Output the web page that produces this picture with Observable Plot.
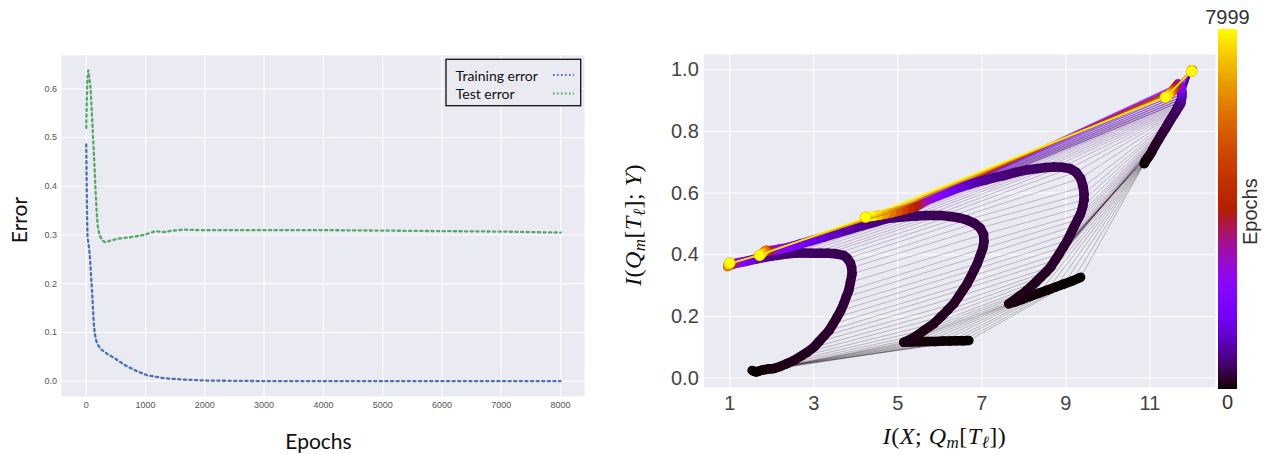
<!DOCTYPE html>
<html><head><meta charset="utf-8">
<script src="https://cdn.jsdelivr.net/npm/d3@7"></script>
<script src="https://cdn.jsdelivr.net/npm/@observablehq/plot@0.6"></script>
<style>
html,body{margin:0;padding:0;background:#fff;}
#root{position:relative;width:1266px;height:454px;overflow:hidden;background:#fff;}
#root svg{position:absolute;}
</style></head><body><div id="root"></div>
<script>
// ---------------- Left panel data ----------------
const trainEpochs = [0, 8, 15, 22, 35, 50, 65, 80, 95, 105, 118, 130, 145, 165, 185, 241, 354, 494, 663, 860, 1029, 1309, 1646, 2040, 3000, 4000, 5000, 6000, 7000, 8000];
const trainErr    = [0.486, 0.40, 0.33, 0.295, 0.285, 0.272, 0.25, 0.22, 0.19, 0.17, 0.138, 0.115, 0.097, 0.085, 0.077, 0.066, 0.056, 0.046, 0.032, 0.020, 0.012, 0.006, 0.003, 0.001, 0.0, 0.0, 0.0, 0.0, 0.0, 0.0];
const testEpochs  = [0, 10, 20, 34, 50, 72, 95, 118, 140, 157, 175, 196, 220, 241, 280, 325, 420, 523, 747, 972, 1100, 1169, 1309, 1450, 1646, 1928, 3000, 4000, 5000, 6000, 7000, 8000];
const testErr     = [0.52, 0.58, 0.62, 0.638, 0.625, 0.603, 0.55, 0.494, 0.44, 0.391, 0.35, 0.316, 0.302, 0.2955, 0.288, 0.285, 0.289, 0.292, 0.2955, 0.300, 0.305, 0.308, 0.306, 0.309, 0.311, 0.310, 0.310, 0.310, 0.309, 0.308, 0.307, 0.305];
const leftXTicks = [0, 1000, 2000, 3000, 4000, 5000, 6000, 7000, 8000];
const leftYTicks = [0, 0.1, 0.2, 0.3, 0.4, 0.5, 0.6];
const seriesNames = ["Training error", "Test error"];
const seriesColors = ["#4c72b0", "#55a868"];

// ---------------- Right panel data (information plane) ----------------
const epochs = [0, 3, 6, 10, 15, 20, 30, 40, 55, 70,
  85, 100, 115, 130, 145, 160, 175, 190, 205, 220, 235, 250, 265, 280, 295, 310, 325, 340, 355, 370, 385, 400, 420, 440, 460, 480, 500, 525, 550, 580,
  620, 700, 800, 950, 1100, 1300, 1550, 1800, 2100, 2500,
  2900, 3400, 3900, 4400, 5000, 5600, 6200, 6800, 7400, 7999];
const L1x = [1.53, 1.58, 1.63, 1.68, 1.74, 1.80, 1.87, 1.93, 1.99, 2.05,
  2.20, 2.36, 2.52, 2.68, 2.84, 3.00, 3.12, 3.24, 3.36, 3.46, 3.55, 3.64, 3.71, 3.77, 3.83, 3.87, 3.91, 3.90, 3.87, 3.80, 3.71, 3.52, 3.34, 3.16, 2.95, 2.74, 2.52, 2.38, 2.25, 2.13,
  2.00, 1.88, 1.76, 1.65, 1.55, 1.45, 1.36, 1.28, 1.20, 1.13,
  1.08, 1.03, 0.99, 0.96, 0.95, 0.95, 0.96, 0.97, 0.99, 1.00];
const L1y = [0.025, 0.022, 0.020, 0.022, 0.025, 0.027, 0.028, 0.030, 0.030, 0.031,
  0.038, 0.047, 0.057, 0.070, 0.084, 0.100, 0.118, 0.136, 0.154, 0.176, 0.197, 0.219, 0.241, 0.263, 0.284, 0.311, 0.338, 0.358, 0.373, 0.388, 0.398, 0.403, 0.405, 0.405, 0.405, 0.406, 0.405, 0.403, 0.401, 0.398,
  0.396, 0.393, 0.390, 0.387, 0.384, 0.381, 0.378, 0.376, 0.374, 0.372,
  0.370, 0.368, 0.366, 0.364, 0.362, 0.363, 0.366, 0.369, 0.371, 0.373];
const L2x = [6.69, 6.55, 6.40, 6.25, 6.08, 5.90, 5.72, 5.52, 5.32, 5.14,
  5.30, 5.48, 5.65, 5.85, 6.02, 6.18, 6.33, 6.45, 6.56, 6.65, 6.74, 6.82, 6.89, 6.96, 7.02, 7.05, 7.04, 6.96, 6.82, 6.64, 6.45, 6.25, 6.05, 5.85, 5.65, 5.45, 5.25, 5.05, 4.90, 4.75,
  4.45, 4.15, 3.85, 3.55, 3.25, 2.95, 2.65, 2.40, 2.17, 2.00,
  1.95, 1.92, 1.89, 1.87, 1.85, 1.83, 1.80, 1.77, 1.74, 1.71];
const L2y = [0.122, 0.121, 0.121, 0.120, 0.120, 0.119, 0.119, 0.118, 0.117, 0.116,
  0.126, 0.140, 0.157, 0.176, 0.198, 0.220, 0.241, 0.265, 0.288, 0.306, 0.330, 0.352, 0.371, 0.397, 0.420, 0.442, 0.466, 0.487, 0.502, 0.513, 0.520, 0.524, 0.527, 0.527, 0.527, 0.526, 0.524, 0.522, 0.520, 0.518,
  0.506, 0.494, 0.482, 0.470, 0.458, 0.446, 0.434, 0.424, 0.418, 0.414,
  0.413, 0.413, 0.414, 0.414, 0.414, 0.412, 0.408, 0.404, 0.401, 0.398];
const L3x = [9.35, 9.15, 8.95, 8.75, 8.55, 8.35, 8.15, 7.95, 7.78, 7.64,
  7.78, 7.91, 8.04, 8.16, 8.29, 8.41, 8.53, 8.64, 8.74, 8.84, 8.94, 9.03, 9.12, 9.20, 9.28, 9.35, 9.40, 9.43, 9.43, 9.41, 9.35, 9.24, 9.09, 8.90, 8.71, 8.52, 8.33, 8.10, 7.80, 7.52,
  7.30, 7.10, 6.90, 6.70, 6.50, 6.30, 6.12, 5.95, 5.80, 5.66,
  5.55, 5.45, 5.30, 5.15, 5.00, 4.85, 4.70, 4.55, 4.40, 4.23];
const L3y = [0.327, 0.315, 0.305, 0.295, 0.285, 0.275, 0.265, 0.255, 0.247, 0.241,
  0.254, 0.268, 0.281, 0.295, 0.312, 0.328, 0.344, 0.360, 0.382, 0.403, 0.425, 0.446, 0.470, 0.493, 0.514, 0.533, 0.556, 0.578, 0.598, 0.620, 0.648, 0.668, 0.680, 0.684, 0.685, 0.683, 0.680, 0.676, 0.667, 0.657,
  0.650, 0.643, 0.636, 0.628, 0.620, 0.610, 0.600, 0.591, 0.583, 0.575,
  0.566, 0.558, 0.551, 0.546, 0.541, 0.536, 0.532, 0.528, 0.525, 0.522];
const L4x = [10.86, 10.87, 10.88, 10.89, 10.90, 10.92, 10.94, 10.96, 10.98, 11.00,
  11.03, 11.05, 11.07, 11.10, 11.12, 11.15, 11.18, 11.20, 11.22, 11.25, 11.27, 11.30, 11.33, 11.35, 11.38, 11.40, 11.42, 11.45, 11.47, 11.50, 11.52, 11.55, 11.57, 11.60, 11.62, 11.64, 11.67, 11.69, 11.71, 11.73,
  11.74, 11.75, 11.76, 11.76, 11.76, 11.75, 11.74, 11.72, 11.70, 11.67,
  11.65, 11.62, 11.59, 11.56, 11.53, 11.50, 11.47, 11.44, 11.41, 11.37];
const L4y = [0.695, 0.697, 0.700, 0.703, 0.706, 0.709, 0.713, 0.717, 0.721, 0.725,
  0.731, 0.736, 0.742, 0.749, 0.754, 0.761, 0.768, 0.772, 0.777, 0.784, 0.789, 0.795, 0.802, 0.806, 0.812, 0.818, 0.822, 0.829, 0.833, 0.840, 0.845, 0.851, 0.855, 0.861, 0.866, 0.871, 0.877, 0.881, 0.886, 0.890,
  0.897, 0.905, 0.913, 0.921, 0.929, 0.936, 0.942, 0.947, 0.951, 0.954,
  0.950, 0.945, 0.940, 0.935, 0.930, 0.926, 0.922, 0.918, 0.914, 0.911];
const L5x = [12.0, 12.0, 12.0, 12.0, 12.0, 12.0, 12.0, 12.0, 12.0, 12.0,
  12.0, 12.0, 12.0, 12.0, 12.0, 12.0, 12.0, 12.0, 12.0, 12.0, 12.0, 12.0, 12.0, 12.0, 12.0, 12.0, 12.0, 12.0, 12.0, 12.0, 12.0, 12.0, 12.0, 12.0, 12.0, 12.0, 12.0, 12.0, 12.0, 12.0,
  12.0, 12.0, 12.0, 12.0, 12.0, 12.0, 12.0, 12.0, 12.0, 12.0,
  12.0, 12.0, 12.0, 12.0, 12.0, 12.0, 12.0, 12.0, 12.0, 11.99];
const L5y = [1.0, 1.0, 1.0, 1.0, 1.0, 1.0, 1.0, 1.0, 1.0, 1.0,
  1.0, 1.0, 1.0, 1.0, 1.0, 1.0, 1.0, 1.0, 1.0, 1.0, 1.0, 1.0, 1.0, 1.0, 1.0, 1.0, 1.0, 1.0, 1.0, 1.0, 1.0, 1.0, 1.0, 1.0, 1.0, 1.0, 1.0, 1.0, 1.0, 1.0,
  1.0, 1.0, 1.0, 1.0, 1.0, 1.0, 1.0, 1.0, 1.0, 1.0,
  1.0, 1.0, 1.0, 1.0, 1.0, 1.0, 1.0, 1.0, 1.0, 0.995];
const rightXTicks = [1, 3, 5, 7, 9, 11];
const rightYTicks = [0, 0.2, 0.4, 0.6, 0.8, 1.0];
const epochMax = 7999;

// gnuplot colormap
const gnuplot = t => {
  const r = Math.sqrt(t), g = t * t * t, b = Math.max(0, Math.sin(2 * Math.PI * t));
  return `rgb(${Math.round(255 * r)},${Math.round(255 * g)},${Math.round(255 * b)})`;
};

const root = document.getElementById("root");

// ---------------- Left plot ----------------
const trainRows = trainEpochs.map((e, i) => ({epoch: e, err: trainErr[i]}));
const testRows = testEpochs.map((e, i) => ({epoch: e, err: testErr[i]}));

const left = Plot.plot({
  width: 600, height: 380,
  marginLeft: 61, marginRight: 16, marginTop: 15, marginBottom: 24.3,
  x: {domain: [-417, 8403], ticks: leftXTicks, tickFormat: "d", tickSize: 0, tickPadding: 5, label: null},
  y: {domain: [-0.031, 0.6686], ticks: leftYTicks, tickFormat: ".1f", tickSize: 0, tickPadding: 4.5, label: null},
  style: {fontFamily: "'Liberation Sans Narrow', 'Liberation Sans', sans-serif", fontSize: "9px", color: "#555", background: "transparent", overflow: "visible"},
  marks: [
    Plot.frame({fill: "#eaeaf2", stroke: "none"}),
    Plot.ruleX(leftXTicks, {stroke: "white", strokeWidth: 1}),
    Plot.ruleY(leftYTicks, {stroke: "white", strokeWidth: 1}),
    Plot.line(trainRows, {x: "epoch", y: "err", stroke: seriesColors[0], strokeWidth: 2.3, strokeDasharray: "2.2,3.4"}),
    Plot.line(testRows, {x: "epoch", y: "err", stroke: seriesColors[1], strokeWidth: 2.3, strokeDasharray: "2.2,3.4"})
  ]
});
left.style.left = "0px"; left.style.top = "40px";
root.appendChild(left);

// ---------------- Right plot ----------------
const layers = [[L1x, L1y], [L2x, L2y], [L3x, L3y], [L4x, L4y], [L5x, L5y]];
const pts = [];
epochs.forEach((e, i) => layers.forEach(([xs, ys], k) => pts.push({epoch: e, layer: k, x: xs[i], y: ys[i]})));
const segs = [];
layers.forEach(([xs, ys], k) => {
  for (let i = 1; i < epochs.length; i++) segs.push({epoch: epochs[i], layer: k, x1: xs[i - 1], y1: ys[i - 1], x2: xs[i], y2: ys[i]});
});
segs.sort((a, b) => a.epoch - b.epoch);
const earlyPts = pts.filter(d => d.epoch < 600);
const midPts = pts.filter(d => d.epoch >= 600 && d.epoch < 6200);
const latePts = pts.filter(d => d.epoch >= 6200);
const finalPts = pts.filter(d => d.epoch === epochMax);

const colorScale = {type: "linear", domain: [0, epochMax], interpolate: gnuplot};

const right = Plot.plot({
  width: 600, height: 380,
  marginLeft: 83.3, marginRight: 5, marginTop: 24, marginBottom: 23.3,
  x: {domain: [0.381, 12.56], ticks: rightXTicks, tickFormat: "d", tickSize: 0, tickPadding: 9, label: null},
  y: {domain: [-0.0295, 1.0496], ticks: rightYTicks, tickFormat: ".1f", tickSize: 0, tickPadding: 5, label: null},
  color: colorScale,
  style: {fontFamily: "'Liberation Sans', Arial, sans-serif", fontSize: "20px", color: "#444", background: "transparent", overflow: "visible"},
  marks: [
    Plot.frame({fill: "#eaeaf2", stroke: "none"}),
    Plot.ruleX(rightXTicks, {stroke: "white", strokeWidth: 1}),
    Plot.ruleY(rightYTicks, {stroke: "white", strokeWidth: 1}),
    Plot.line(earlyPts, {x: "x", y: "y", z: "epoch", stroke: "epoch", strokeWidth: 0.8, strokeOpacity: 0.3}),
    Plot.line(midPts, {x: "x", y: "y", z: "epoch", stroke: "epoch", strokeWidth: 1.4, strokeOpacity: 0.6}),
    Plot.link(segs, {x1: "x1", y1: "y1", x2: "x2", y2: "y2", stroke: "epoch", strokeWidth: 9.5, strokeLinecap: "round"}),
    Plot.line(latePts, {x: "x", y: "y", z: "epoch", stroke: "epoch", strokeWidth: 1.4, strokeOpacity: 0.8}),
    Plot.dot(finalPts, {x: "x", y: "y", fill: "epoch", r: 5.5, stroke: "#e8a000", strokeWidth: 0.6})
  ]
});
right.style.left = "620px"; right.style.top = "30px";
root.appendChild(right);

// ---------------- Colorbar ----------------
const cbSteps = d3.range(0, epochMax, 20);
const cbar = Plot.plot({
  width: 56, height: 454,
  marginLeft: 7.7, marginRight: 28.7, marginTop: 29, marginBottom: 65,
  x: {domain: [0, 1], axis: null},
  y: {domain: [0, epochMax], axis: null},
  color: colorScale,
  style: {background: "transparent"},
  marks: [
    Plot.rect(cbSteps, {x1: d => 0, x2: d => 1, y1: d => d, y2: d => Math.min(d + 22, epochMax), fill: d => d, shapeRendering: "crispEdges"})
  ]
});
cbar.style.left = "1210px"; cbar.style.top = "0px";
root.appendChild(cbar);

// ---------------- Overlay texts / legend ----------------
const ov = d3.create("svg").attr("width", 1266).attr("height", 454)
  .style("left", "0px").style("top", "0px").style("overflow", "visible");

// left panel labels
ov.append("text").attr("transform", "translate(18,220) rotate(-90)")
  .attr("text-anchor", "middle").attr("dominant-baseline", "central")
  .attr("font-family", "Lato, 'Open Sans', sans-serif").attr("font-size", 21).attr("fill", "#111").text("Error");
ov.append("text").attr("x", 318.5).attr("y", 440)
  .attr("text-anchor", "middle").attr("dominant-baseline", "central")
  .attr("font-family", "Lato, 'Open Sans', sans-serif").attr("font-size", 21).attr("fill", "#111").text("Epochs");

// legend
ov.append("rect").attr("x", 446).attr("y", 59.3).attr("width", 134.7).attr("height", 46.4)
  .attr("fill", "#eaeaf2").attr("stroke", "#111").attr("stroke-width", 1.3);
seriesNames.forEach((name, i) => {
  const yy = 75 + i * 18.5;
  ov.append("text").attr("x", 455.7).attr("y", yy).attr("dominant-baseline", "central")
    .attr("font-family", "Lato, 'Open Sans', sans-serif").attr("font-size", 14).attr("fill", "#111").text(name);
  ov.append("line").attr("x1", 553).attr("x2", 574).attr("y1", yy).attr("y2", yy)
    .attr("stroke", seriesColors[i]).attr("stroke-width", 1.8).attr("stroke-dasharray", "1.6,2.4");
});

// math labels
function mathText(transform, parts) {
  const t = ov.append("text").attr("transform", transform).attr("text-anchor", "middle")
    .attr("font-family", "'Liberation Serif', 'DejaVu Serif', serif").attr("font-size", 24)
    .attr("fill", "#111").attr("letter-spacing", 0.5);
  let sub = false;
  parts.forEach(([txt, it, isSub]) => {
    const ts = t.append("tspan").text(txt);
    if (it) ts.attr("font-style", "italic");
    if (isSub && !sub) { ts.attr("dy", 4); sub = true; }
    else if (!isSub && sub) { ts.attr("dy", -4); sub = false; }
    if (isSub) ts.attr("font-size", 17);
  });
}
mathText("translate(944.5,444)", [["I",1,0],["(",0,0],["X",1,0],["; ",0,0],["Q",1,0],["m",1,1],["[",0,0],["T",1,0],["ℓ",1,1],["])",0,0]]);
mathText("translate(641,225) rotate(-90)", [["I",1,0],["(",0,0],["Q",1,0],["m",1,1],["[",0,0],["T",1,0],["ℓ",1,1],["]; ",0,0],["Y",1,0],[")",0,0]]);

// colorbar labels
const cbFont = "'Liberation Sans', Arial, sans-serif";
ov.append("text").attr("x", 1227.5).attr("y", 17.3).attr("text-anchor", "middle").attr("dominant-baseline", "central")
  .attr("font-family", cbFont).attr("font-size", 20).attr("fill", "#333").text(String(epochMax));
ov.append("text").attr("x", 1227.5).attr("y", 401.7).attr("text-anchor", "middle").attr("dominant-baseline", "central")
  .attr("font-family", cbFont).attr("font-size", 20).attr("fill", "#333").text("0");
ov.append("text").attr("transform", "translate(1250,211.7) rotate(-90)").attr("text-anchor", "middle").attr("dominant-baseline", "central")
  .attr("font-family", cbFont).attr("font-size", 20).attr("fill", "#333").text("Epochs");

root.appendChild(ov.node());
</script></body></html>
